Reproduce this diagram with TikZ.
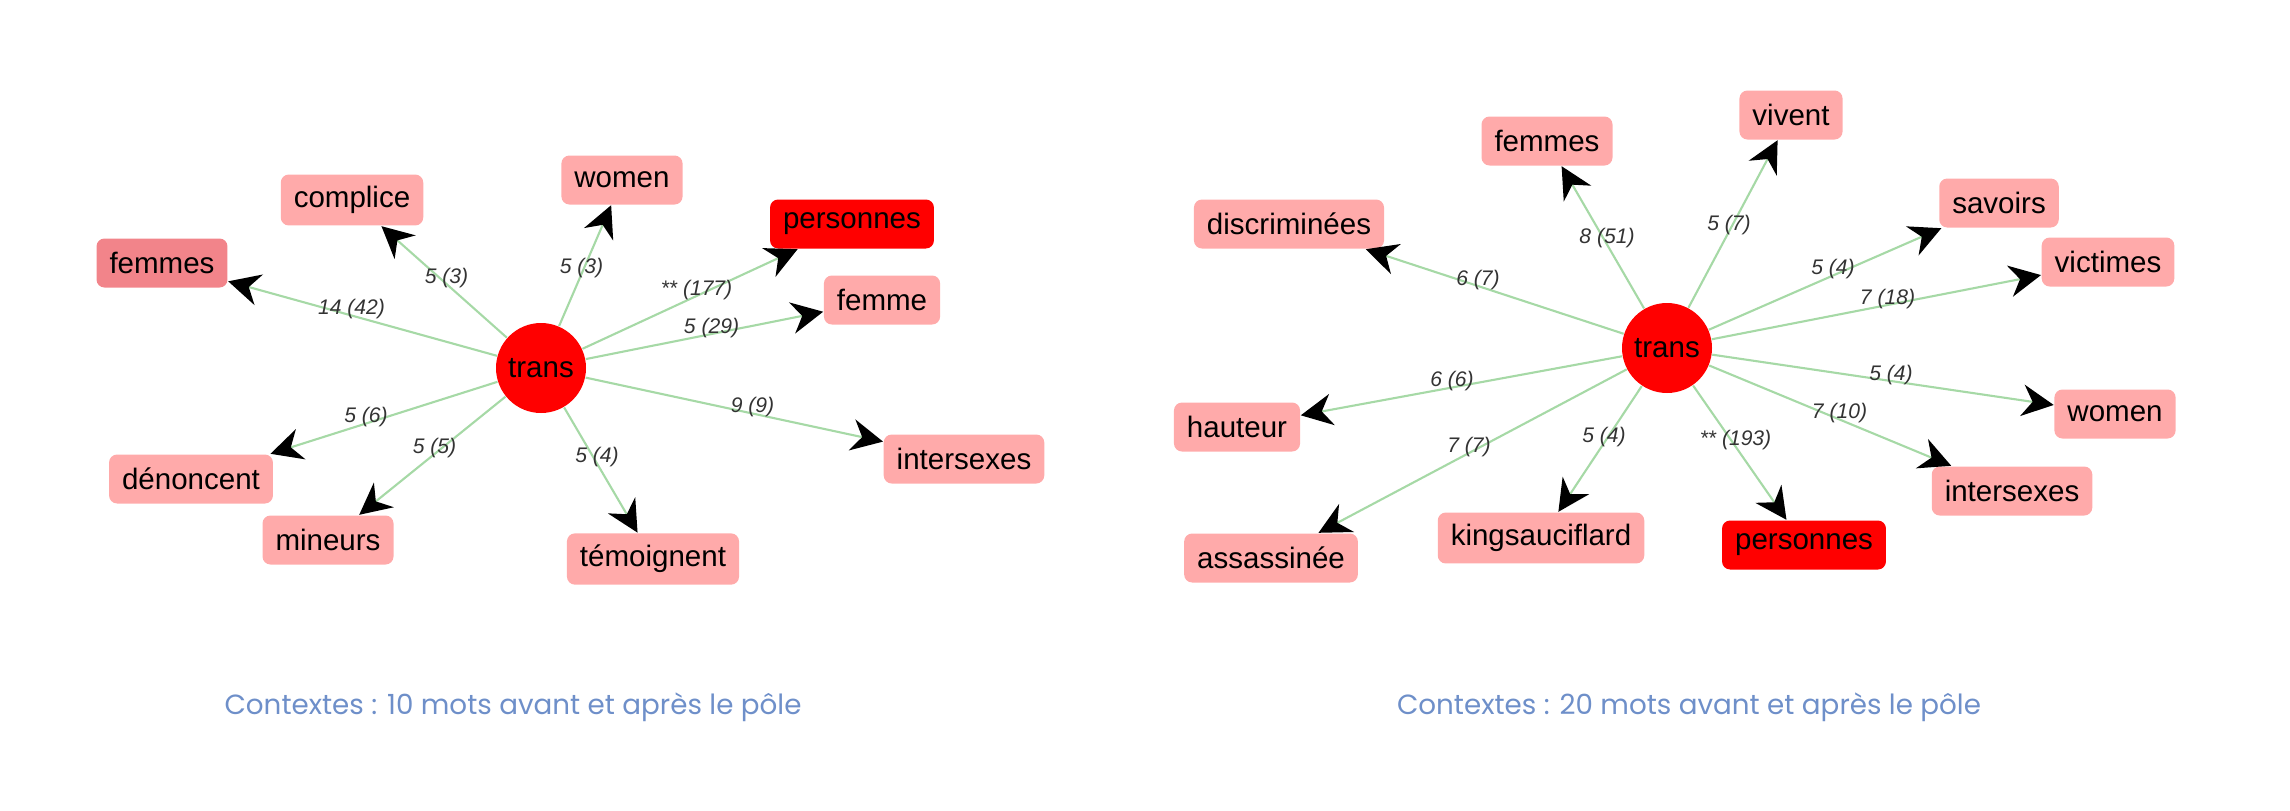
\documentclass[tikz,border=0pt]{standalone}
\usepackage{fontspec}
\usetikzlibrary{arrows.meta,calc}
\setmainfont{Liberation Sans}
\newfontfamily\capfont{Poppins}
\definecolor{wdpink}{HTML}{FFAAAA}
\definecolor{wdrose}{HTML}{F2848A}
\definecolor{wdred}{HTML}{FF0000}
\definecolor{wdgreen}{HTML}{A6D9A6}
\definecolor{wdcap}{HTML}{6E8FC9}

\begin{document}
\begin{tikzpicture}[x=0.1mm,y=-0.1mm,
      word/.style={fill=wdpink,rounded corners=0.8mm,minimum height=4.9mm,inner xsep=1.3mm,
        font=\fontsize{8.4}{10}\selectfont},
      pole/.style={circle,fill=wdred,minimum size=9mm,inner sep=0pt,
        font=\fontsize{8.4}{10}\selectfont},
      arr/.style={-{Stealth[length=9pt,width=9pt,color=black]},draw=wdgreen,line width=0.6pt},
      lbl/.style={font=\fontsize{6}{7}\selectfont\itshape,text=black!80,yshift=0.6mm},
      legend/.style={anchor=base,font=\capfont\fontsize{7.9}{9}\selectfont,text=wdcap}]
    \useasboundingbox (0,0) rectangle (2290,810);
    % 10 mots
    \node[pole] (ta) at (541,368) {trans};
    \node[word,fill=wdrose] (a1) at (162,263) {femmes};
    \node[word] (a2) at (352,200) {complice};
    \node[word] (a3) at (622,180) {women};
    \node[word,fill=wdred] (a4) at (852,224) {personnes};
    \node[word] (a5) at (882,300) {femme};
    \node[word] (a6) at (964,459) {intersexes};
    \node[word] (a7) at (653,559) {témoignent};
    \node[word] (a8) at (328,540) {mineurs};
    \node[word] (a9) at (191,479) {dénoncent};
    \draw[arr] (ta) -- (a1);
    \draw[arr] (ta) -- (a2);
    \draw[arr] (ta) -- (a3);
    \draw[arr] (ta) -- (a4);
    \draw[arr] (ta) -- (a5);
    \draw[arr] (ta) -- (a6);
    \draw[arr] (ta) -- (a7);
    \draw[arr] (ta) -- (a8);
    \draw[arr] (ta) -- (a9);
    \node[lbl] (la1) at ($(ta)!.5!(a1)$) {14 (42)};
    \node[lbl] (la2) at ($(ta)!.5!(a2)$) {5 (3)};
    \node[lbl] (la3) at ($(ta)!.5!(a3)$) {5 (3)};
    \node[lbl] (la4) at ($(ta)!.5!(a4)$) {** (177)};
    \node[lbl] (la5) at ($(ta)!.5!(a5)$) {5 (29)};
    \node[lbl] (la6) at ($(ta)!.5!(a6)$) {9 (9)};
    \node[lbl] (la7) at ($(ta)!.5!(a7)$) {5 (4)};
    \node[lbl] (la8) at ($(ta)!.5!(a8)$) {5 (5)};
    \node[lbl] (la9) at ($(ta)!.5!(a9)$) {5 (6)};
    \node[legend] (capa) at (513,714) {Contextes : 10 mots avant et après le pôle};
    % 20 mots
    \node[pole] (tb) at (1667,348) {trans};
    \node[word] (b1) at (1289,224) {discriminées};
    \node[word] (b2) at (1547,141) {femmes};
    \node[word] (b3) at (1791,115) {vivent};
    \node[word] (b4) at (1999,203) {savoirs};
    \node[word] (b5) at (2108,262) {victimes};
    \node[word] (b6) at (2115,414) {women};
    \node[word] (b7) at (2012,491) {intersexes};
    \node[word,fill=wdred] (b8) at (1804,545) {personnes};
    \node[word] (b9) at (1541,538) {kingsauciflard};
    \node[word] (b10) at (1271,558) {assassinée};
    \node[word] (b11) at (1237,427) {hauteur};
    \draw[arr] (tb) -- (b1);
    \draw[arr] (tb) -- (b2);
    \draw[arr] (tb) -- (b3);
    \draw[arr] (tb) -- (b4);
    \draw[arr] (tb) -- (b5);
    \draw[arr] (tb) -- (b6);
    \draw[arr] (tb) -- (b7);
    \draw[arr] (tb) -- (b8);
    \draw[arr] (tb) -- (b9);
    \draw[arr] (tb) -- (b10);
    \draw[arr] (tb) -- (b11);
    \node[lbl] (lb1) at ($(tb)!.5!(b1)$) {6 (7)};
    \node[lbl] (lb2) at ($(tb)!.5!(b2)$) {8 (51)};
    \node[lbl] (lb3) at ($(tb)!.5!(b3)$) {5 (7)};
    \node[lbl] (lb4) at ($(tb)!.5!(b4)$) {5 (4)};
    \node[lbl] (lb5) at ($(tb)!.5!(b5)$) {7 (18)};
    \node[lbl] (lb6) at ($(tb)!.5!(b6)$) {5 (4)};
    \node[lbl] (lb7) at ($(tb)!.5!(b7)$) {7 (10)};
    \node[lbl] (lb8) at ($(tb)!.5!(b8)$) {** (193)};
    \node[lbl] (lb9) at ($(tb)!.5!(b9)$) {5 (4)};
    \node[lbl] (lb10) at ($(tb)!.5!(b10)$) {7 (7)};
    \node[lbl] (lb11) at ($(tb)!.5!(b11)$) {6 (6)};
    \node[legend] (capb) at (1689,714) {Contextes : 20 mots avant et après le pôle};
  \end{tikzpicture}
\end{document}
